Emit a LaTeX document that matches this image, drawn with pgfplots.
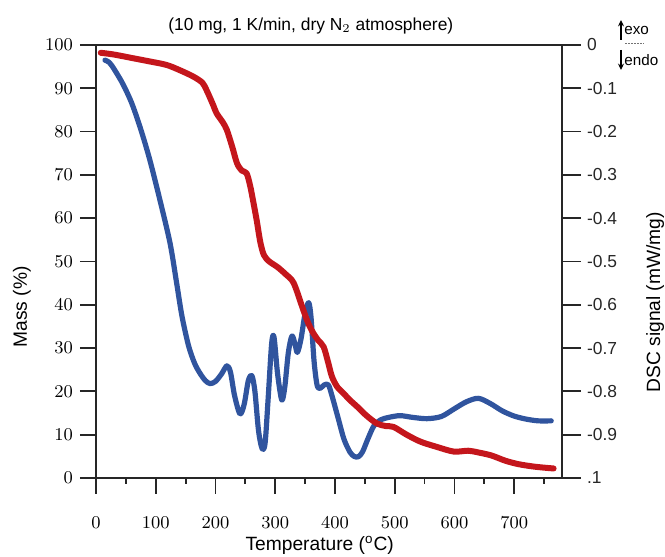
\documentclass[border=0pt]{standalone}
\usepackage{pgfplots}
\pgfplotsset{compat=1.18}
\usepackage{fontspec}
\setmainfont{Liberation Sans}
\usetikzlibrary{arrows.meta}
\definecolor{dscblue}{RGB}{48,84,158}
\definecolor{tgred}{RGB}{196,22,28}

% DSC signal (mW/mg) vs temperature
\pgfplotstableread{
T dsc
15 -0.035
22 -0.040
30 -0.055
45 -0.090
60 -0.135
75 -0.195
90 -0.265
107 -0.358
124 -0.458
135 -0.550
144 -0.627
155 -0.695
165 -0.735
174 -0.758
183 -0.775
191 -0.782
200 -0.777
210 -0.760
219 -0.741
225 -0.755
232 -0.810
241 -0.852
248 -0.830
255 -0.775
261 -0.764
266 -0.800
272 -0.890
278 -0.932
283 -0.920
288 -0.820
294 -0.690
298 -0.675
304 -0.760
311 -0.820
316 -0.790
322 -0.710
328 -0.672
333 -0.690
337 -0.710
343 -0.680
350 -0.620
356 -0.595
360 -0.630
365 -0.730
370 -0.785
375 -0.793
382 -0.785
389 -0.785
395 -0.810
405 -0.860
415 -0.910
425 -0.940
432 -0.950
439 -0.951
446 -0.940
455 -0.910
465 -0.880
476 -0.866
490 -0.860
509 -0.856
530 -0.860
554 -0.863
578 -0.858
600 -0.840
620 -0.824
640 -0.816
660 -0.828
680 -0.845
700 -0.857
720 -0.864
740 -0.868
762 -0.868
}\dsctable

% TG mass (%) vs temperature
\pgfplotstableread{
T mass
8 98.2
30 97.8
60 97.0
90 96.2
118 95.4
140 94.2
163 92.7
178 91.3
185 89.6
195 86.5
202 84.2
212 82.2
219 80.4
228 76.5
236 72.7
244 71.0
252 70.4
258 67.5
263 64.0
269 59.5
275 54.5
281 51.5
290 50.0
303 48.8
318 47.0
331 45.0
347 38.8
356 35.5
364 33.4
372 31.8
381 30.3
388 27.0
395 23.4
404 21.0
414 19.6
425 18.0
437 16.5
452 14.5
470 12.6
485 12.0
498 11.8
520 10.0
543 8.4
570 7.2
599 6.1
623 6.3
640 5.9
662 5.2
685 4.0
707 3.2
735 2.6
766 2.2
}\tgtable

\begin{document}
\begin{tikzpicture}
\useasboundingbox (-48pt,-39.5pt) rectangle (284.5pt,239pt);
\pgfplotsset{
  common/.style={
    width=233pt, height=216.5pt, scale only axis,
    at={(0pt,0pt)}, anchor=south west,
    xmin=0, xmax=780,
    axis line style={line width=0.7pt, black!85},
    tick style={line width=0.9pt, black!85},
    tick align=outside,
  },
}
% right axis: DSC
\begin{axis}[common,
  axis x line=none, axis y line*=right,
  ymin=-1, ymax=0,
  ytick={0,-0.1,-0.2,-0.3,-0.4,-0.5,-0.6,-0.7,-0.8,-0.9,-1},
  yticklabels={0,-0.1,-0.2,-0.3,-0.4,-0.5,-0.6,-0.7,-0.8,-0.9,.1},
  major tick length=9.5pt,
  yticklabel style={font=\fontsize{8.7}{10}\selectfont, black!85},
  yticklabel shift=-0.5pt,
  ylabel={DSC signal (mW/mg)},
  ylabel style={at={(axis description cs:1.2,0.406)}, anchor=center, rotate=0,
    font=\fontsize{9.6}{11}\selectfont},
]
\addplot[dscblue, line width=2.6pt, smooth, line join=round, line cap=round]
  table[x=T, y=dsc] {\dsctable};
\end{axis}
% left axis: mass
\begin{axis}[common,
  ymin=0, ymax=100,
  ytick={0,10,...,100},
  xtick={0,100,...,700},
  minor xtick={50,150,...,750},
  xtick pos=bottom, ytick pos=left,
  major tick length=8pt, minor tick length=3pt,
  yticklabel style={font=\fontsize{9}{10}\selectfont},
  xticklabel style={font=\fontsize{9}{10}\selectfont},
  yticklabel shift=0pt,
  xticklabel shift=8pt,
  xlabel={Temperature ($^{\mathrm{o}}$C)},
  xlabel style={at={(axis description cs:0.48,-0.155)}, anchor=center,
    font=\fontsize{9.6}{11}\selectfont},
  ylabel={Mass (\%)},
  ylabel style={at={(axis description cs:-0.159,0.395)}, anchor=center,
    font=\fontsize{9.6}{11}\selectfont},
  title={(10 mg, 1 K/min, dry N$_2$ atmosphere)},
  title style={at={(axis description cs:0.461,1.016)}, anchor=center,
    font=\fontsize{8.7}{10}\selectfont},
]
\addplot[tgred, line width=3pt, smooth, line join=round, line cap=round]
  table[x=T, y=mass] {\tgtable};
\end{axis}
% exo / endo marker
\draw[-{Stealth[length=3.2pt,width=3pt]}, line width=0.9pt] (262.5pt,219pt) -- (262.5pt,229pt);
\node[anchor=west, inner sep=0pt, font=\fontsize{7.6}{9}\selectfont] at (264pt,224pt) {exo};
\draw[dash pattern=on 0.9pt off 0.6pt, line width=0.5pt, black!55] (264.5pt,217pt) -- (274pt,217pt);
\draw[-{Stealth[length=3.2pt,width=3pt]}, line width=0.9pt] (262.5pt,214pt) -- (262.5pt,204pt);
\node[anchor=west, inner sep=0pt, font=\fontsize{7.6}{9}\selectfont] at (264pt,209pt) {endo};
\end{tikzpicture}
\end{document}
